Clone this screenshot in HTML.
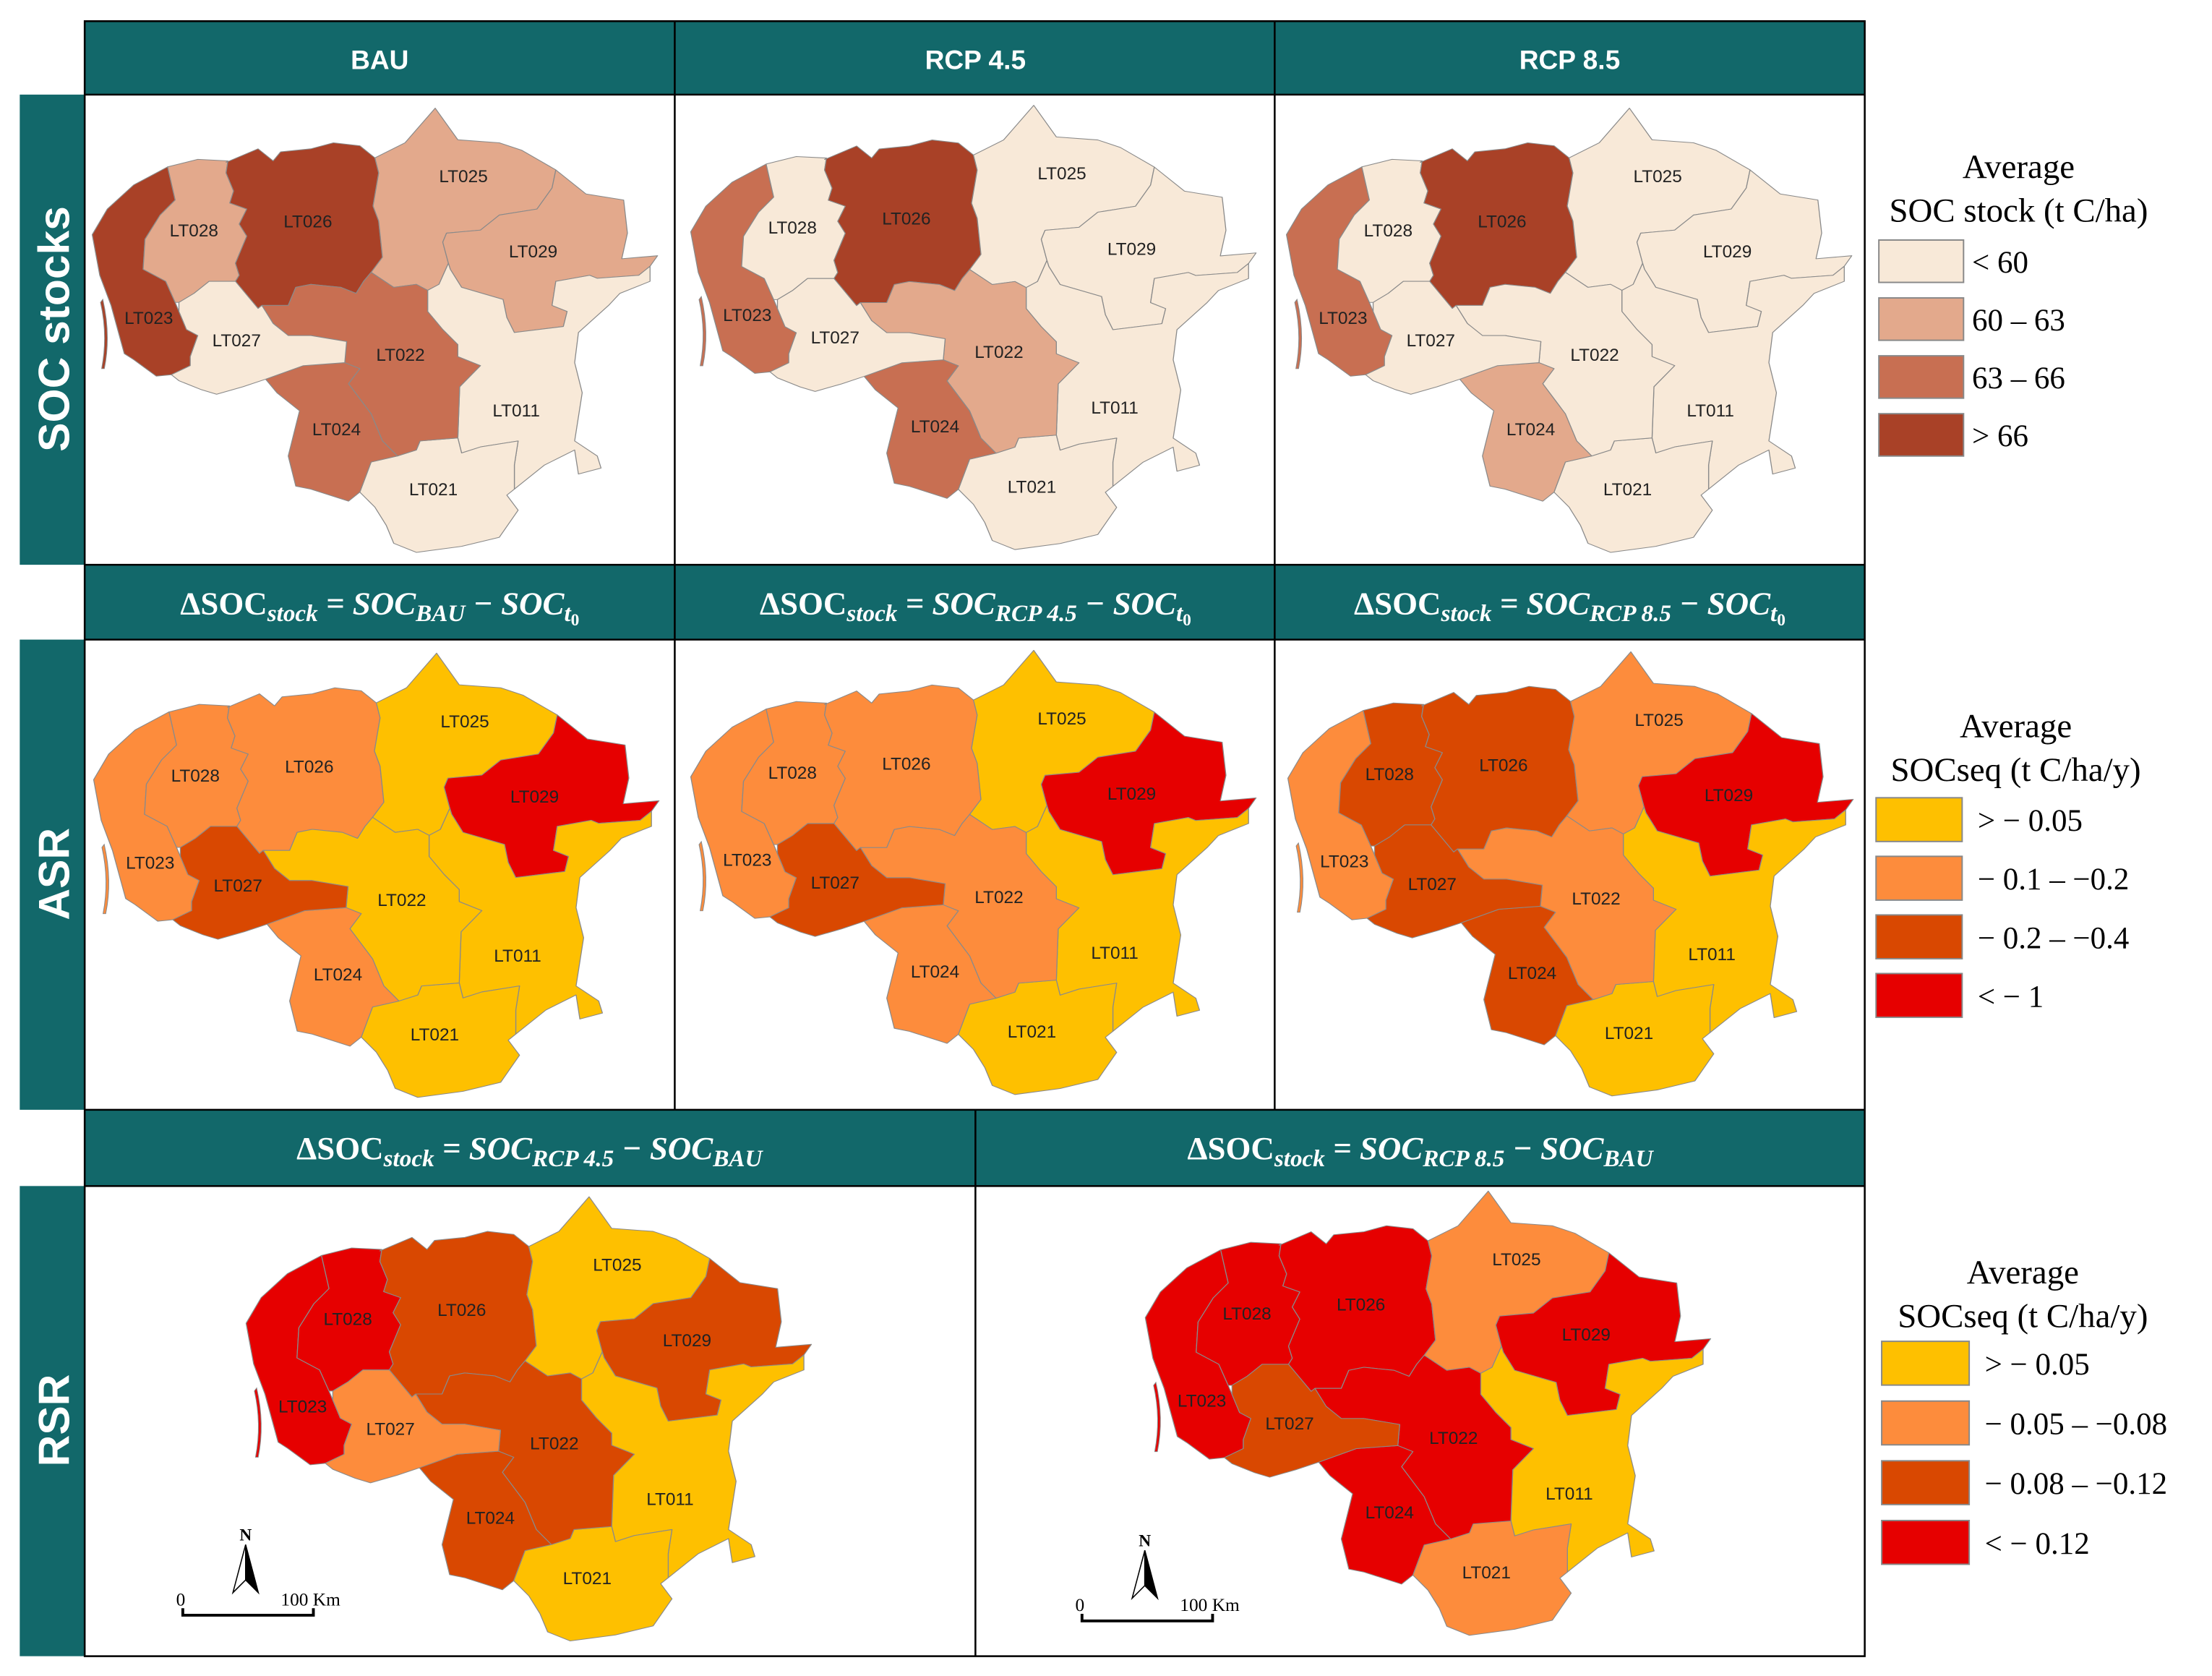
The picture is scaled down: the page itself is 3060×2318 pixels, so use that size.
<!DOCTYPE html>
<html><head><meta charset="utf-8"><style>
html,body{margin:0;padding:0;background:#fff;}
svg{display:block;}
.hd{font-family:"Liberation Sans",sans-serif;font-weight:bold;fill:#fff;}
.fm{font-family:"Liberation Serif",serif;font-weight:bold;fill:#fff;font-size:23px;}
.lg{font-family:"Liberation Serif",serif;fill:#000;}
.rl{font-family:"Liberation Sans",sans-serif;font-size:12.5px;fill:#222;}
</style></head><body>
<svg id="fig" width="3060" height="2318" viewBox="0 0 1567 1187" preserveAspectRatio="xMinYMin meet" xmlns="http://www.w3.org/2000/svg">
<rect width="1567" height="1187" fill="#fff"/>
<g id="frames">
  <rect x="60" y="15" width="1261" height="52" fill="#12686a"/>
  <text class="hd" x="269" y="49" font-size="19" text-anchor="middle">BAU</text>
  <text class="hd" x="691" y="49" font-size="19" text-anchor="middle">RCP 4.5</text>
  <text class="hd" x="1112" y="49" font-size="19" text-anchor="middle">RCP 8.5</text>
  <rect x="60" y="400" width="1261" height="53" fill="#12686a"/>
  <rect x="60" y="786" width="1261" height="54" fill="#12686a"/>
  <rect x="14" y="67" width="46" height="333" fill="#12686a"/>
  <rect x="14" y="453" width="46" height="333" fill="#12686a"/>
  <rect x="14" y="840" width="46" height="333" fill="#12686a"/>
  <text class="hd" font-size="31" transform="translate(49,233) rotate(-90)" text-anchor="middle">SOC stocks</text>
  <text class="hd" font-size="31" transform="translate(49,619) rotate(-90)" text-anchor="middle">ASR</text>
  <text class="hd" font-size="31" transform="translate(49,1006) rotate(-90)" text-anchor="middle">RSR</text>
  <text class="fm" x="269" y="435" text-anchor="middle">ΔSOC<tspan font-style="italic" font-size="17" dy="5">stock</tspan><tspan dy="-5" font-style="italic"> = SOC</tspan><tspan font-style="italic" font-size="17" dy="5">BAU</tspan><tspan dy="-5" font-style="italic"> − SOC</tspan><tspan font-style="italic" font-size="17" dy="5">t</tspan><tspan font-size="12" dy="3">0</tspan></text>
  <text class="fm" x="691" y="435" text-anchor="middle">ΔSOC<tspan font-style="italic" font-size="17" dy="5">stock</tspan><tspan dy="-5" font-style="italic"> = SOC</tspan><tspan font-style="italic" font-size="17" dy="5">RCP 4.5</tspan><tspan dy="-5" font-style="italic"> − SOC</tspan><tspan font-style="italic" font-size="17" dy="5">t</tspan><tspan font-size="12" dy="3">0</tspan></text>
  <text class="fm" x="1112" y="435" text-anchor="middle">ΔSOC<tspan font-style="italic" font-size="17" dy="5">stock</tspan><tspan dy="-5" font-style="italic"> = SOC</tspan><tspan font-style="italic" font-size="17" dy="5">RCP 8.5</tspan><tspan dy="-5" font-style="italic"> − SOC</tspan><tspan font-style="italic" font-size="17" dy="5">t</tspan><tspan font-size="12" dy="3">0</tspan></text>
  <text class="fm" x="375" y="821" text-anchor="middle">ΔSOC<tspan font-style="italic" font-size="17" dy="5">stock</tspan><tspan dy="-5" font-style="italic"> = SOC</tspan><tspan font-style="italic" font-size="17" dy="5">RCP 4.5</tspan><tspan dy="-5" font-style="italic"> − SOC</tspan><tspan font-style="italic" font-size="17" dy="5">BAU</tspan></text>
  <text class="fm" x="1006" y="821" text-anchor="middle">ΔSOC<tspan font-style="italic" font-size="17" dy="5">stock</tspan><tspan dy="-5" font-style="italic"> = SOC</tspan><tspan font-style="italic" font-size="17" dy="5">RCP 8.5</tspan><tspan dy="-5" font-style="italic"> − SOC</tspan><tspan font-style="italic" font-size="17" dy="5">BAU</tspan></text>
</g>
<g id="maps"></g>
<g id="borders" fill="none" stroke="#000" stroke-width="1.3">
  <rect x="60" y="15" width="1261" height="1158"/>
  <line x1="478" y1="15" x2="478" y2="786"/><line x1="903" y1="15" x2="903" y2="786"/>
  <line x1="691" y1="786" x2="691" y2="1173"/>
  <line x1="60" y1="67" x2="1321" y2="67"/><line x1="60" y1="400" x2="1321" y2="400"/>
  <line x1="60" y1="453" x2="1321" y2="453"/><line x1="60" y1="786" x2="1321" y2="786"/>
  <line x1="60" y1="840" x2="1321" y2="840"/>
</g>
<g id="scalebars"></g>
<g id="legends"></g>
</svg>
<script>
const NS="http://www.w3.org/2000/svg";
const regions=["LT023","LT028","LT026","LT025","LT029","LT011","LT021","LT022","LT024","LT027"];
const socBAU   =[3,1,3,1,1,0,0,2,2,0];
const socRCP45 =[2,0,3,0,0,0,0,1,2,0];
const socRCP85 =[2,0,3,0,0,0,0,0,1,0];
const asrBAU   =[1,1,1,0,3,0,0,0,1,2];
const asrRCP45 =[1,1,1,0,3,0,0,1,1,2];
const asrRCP85 =[1,2,2,1,3,0,0,1,2,2];
const rsrRCP45 =[3,3,2,0,2,0,0,2,2,1];
const rsrRCP85 =[3,3,3,1,3,0,1,3,3,2];
const socColors=["#f8e9d8","#e3a98c","#c86f52","#a94127"];
const seqColors=["#fec000","#fd8c3c","#d94801","#e60000"];
const socLegend=["< 60","60 – 63","63 – 66","> 66"];
const asrLegend=["> − 0.05","− 0.1 – −0.2","− 0.2 – −0.4","< − 1"];
const rsrLegend=["> − 0.05","− 0.05 – −0.08","− 0.08 – −0.12","< − 0.12"];

const shapes={
LT023:"20,465 60,380 130,300 190,260 220,240 240,350 200,400 160,480 155,580 215,620 240,690 250,720 270,780 300,800 280,870 280,900 230,930 190,935 130,880 105,860 70,700 40,600",
LT028:"220,240 300,215 380,220 375,260 395,320 385,360 430,380 410,430 430,470 400,560 410,600 400,620 330,620 290,660 250,690 240,690 215,620 155,580 160,480 200,400 240,350",
LT026:"375,225 460,180 500,220 520,190 600,180 660,160 730,170 770,210 780,260 765,370 780,420 790,540 760,590 740,620 720,660 680,640 600,630 560,640 540,700 470,700 460,710 400,620 410,600 400,560 430,470 410,430 430,380 385,360 395,320 375,260 380,220",
LT025:"770,210 850,160 930,45 990,150 1100,160 1160,185 1250,250 1240,310 1200,380 1100,400 1050,450 960,460 950,490 965,560 940,630 910,650 880,630 820,640 760,590 790,540 780,420 765,370 780,260",
LT029:"1250,250 1330,330 1430,350 1440,460 1425,545 1520,535 1500,570 1470,600 1360,610 1340,600 1250,620 1240,700 1280,720 1270,770 1140,790 1120,740 1110,680 1000,640 970,580 965,560 950,490 960,460 1050,450 1100,400 1200,380 1240,310",
LT011:"940,630 965,560 970,580 1000,640 1110,680 1120,740 1140,790 1270,770 1280,720 1240,700 1250,620 1340,600 1360,610 1470,600 1500,570 1500,620 1420,660 1390,700 1310,790 1300,890 1320,990 1300,1150 1360,1200 1370,1240 1310,1260 1300,1180 1220,1230 1140,1310 1140,1230 1150,1150 1050,1170 1000,1190 990,1140 995,970 1050,900 990,870 990,830 950,780 910,720 910,650",
LT021:"730,1320 760,1220 830,1200 880,1180 890,1150 990,1140 1000,1190 1050,1170 1150,1150 1140,1230 1140,1310 1120,1330 1150,1380 1100,1470 1000,1500 880,1520 820,1490 800,1430 770,1370",
LT022:"470,700 540,700 560,640 600,630 680,640 720,660 740,620 760,590 820,640 880,630 910,650 910,720 950,780 990,830 990,870 1050,900 995,970 990,1140 890,1150 880,1180 830,1200 790,1150 760,1060 700,960 730,910 690,890 695,820 600,800 540,800 500,760",
LT024:"480,945 580,900 690,890 730,910 700,960 760,1060 790,1150 830,1200 760,1220 730,1320 700,1350 600,1310 560,1300 540,1200 560,1100 570,1050 510,990",
LT027:"250,690 290,660 330,620 400,620 460,710 470,700 500,760 540,800 600,800 695,820 690,890 580,900 480,945 420,970 350,995 310,980 250,950 230,930 280,900 280,870 300,800 270,780 250,720"
};
const labelPos={LT023:[170,740],LT028:[290,450],LT026:[592,420],LT025:[1005,270],LT029:[1190,520],LT011:[1145,1048],LT021:[925,1310],LT022:[838,863],LT024:[668,1110],LT027:[403,815]};

const panels=[
 {name:"map-soc-bau",ox:60,oy:67,vals:socBAU,cols:socColors},
 {name:"map-soc-rcp45",ox:484,oy:65,vals:socRCP45,cols:socColors},
 {name:"map-soc-rcp85",ox:906,oy:67,vals:socRCP85,cols:socColors},
 {name:"map-asr-bau",ox:61,oy:453,vals:asrBAU,cols:seqColors},
 {name:"map-asr-rcp45",ox:484,oy:451,vals:asrRCP45,cols:seqColors},
 {name:"map-asr-rcp85",ox:907,oy:452,vals:asrRCP85,cols:seqColors},
 {name:"map-rsr-rcp45",ox:169,oy:838,vals:rsrRCP45,cols:seqColors},
 {name:"map-rsr-rcp85",ox:806,oy:834,vals:rsrRCP85,cols:seqColors}
];
const SX=0.267, SY=0.2133;
const maps=document.getElementById("maps");
panels.forEach(p=>{
  const g=document.createElementNS(NS,"g");
  
  
  const sg=document.createElementNS(NS,"g");
  sg.setAttribute("transform",`translate(${p.ox},${p.oy}) scale(${SX},${SY})`);
  regions.forEach((r,i)=>{
    const poly=document.createElementNS(NS,"polygon");
    poly.setAttribute("points",shapes[r]);
    poly.setAttribute("fill",p.cols[p.vals[i]]);
    poly.setAttribute("stroke","#8a8a8a");
    poly.setAttribute("stroke-width","2.5");
    poly.setAttribute("stroke-linejoin","round");
    
    
    sg.appendChild(poly);
  });
  const spit=document.createElementNS(NS,"path");
  spit.setAttribute("d","M48,680 Q70,800 52,910 L45,910 Q62,800 42,690 Z");
  spit.setAttribute("fill",p.cols[p.vals[0]]);
  spit.setAttribute("stroke","#8a8a8a");
  spit.setAttribute("stroke-width","2");
  
  
  sg.appendChild(spit);
  g.appendChild(sg);
  regions.forEach(r=>{
    const t=document.createElementNS(NS,"text");
    t.setAttribute("class","rl");
    t.setAttribute("x",(p.ox+labelPos[r][0]*SX).toFixed(1));
    t.setAttribute("y",(p.oy+labelPos[r][1]*SY+4.5).toFixed(1));
    t.setAttribute("text-anchor","middle");
    
    
    t.textContent=r;
    g.appendChild(t);
  });
  maps.appendChild(g);
});

const sb=document.getElementById("scalebars");
[[0,0],[637,4]].forEach(([dx,dy],k)=>{
  const g=document.createElementNS(NS,"g");
  
  
  g.setAttribute("transform",`translate(${dx},${dy})`);
  g.innerHTML=`<text x="174" y="1091" font-family="Liberation Serif,serif" font-weight="bold" font-size="12" text-anchor="middle">N</text>
<polygon points="174,1094 165,1128 174,1119" fill="#fff" stroke="#000" stroke-width="0.8"/>
<polygon points="174,1094 183,1128 174,1119" fill="#000" stroke="#000" stroke-width="0.8"/>
<text x="128" y="1137" font-family="Liberation Serif,serif" font-size="13" text-anchor="middle">0</text>
<text x="220" y="1137" font-family="Liberation Serif,serif" font-size="13" text-anchor="middle">100 Km</text>
<path d="M129.5,1139 V1144 H222 V1139" fill="none" stroke="#000" stroke-width="2"/>`;
  sb.appendChild(g);
});

const lgRoot=document.getElementById("legends");
function legend(name,cx,ty,sx,sy0,step,h,w,labels,cols,lx,lfs){
  const g=document.createElementNS(NS,"g");
  
  
  let s=`<text class="lg" x="${cx}" y="${ty}" font-size="24" text-anchor="middle">Average</text>`;
  lgRoot.appendChild(g);
  labels.forEach((l,i)=>{
    const y=sy0+i*step;
    s+=`<rect x="${sx}" y="${y}" width="${w}" height="${h}" fill="${cols[i]}" stroke="#888" stroke-width="1"/>`;
    s+=`<text class="lg" x="${lx}" y="${y+h/2+8}" font-size="22">${l}</text>`;
  });
  g.innerHTML=s;
  return g;
}
const l1=legend("legend-soc-stock",1430,126,1331,170,41,30,60,socLegend,socColors,1397,22);
l1.insertAdjacentHTML("beforeend",`<text class="lg" x="1430" y="157" font-size="24" text-anchor="middle">SOC stock (t C/ha)</text>`);
const l2=legend("legend-asr",1428,522,1329,565,41.5,31,61,asrLegend,seqColors,1401,22);
l2.insertAdjacentHTML("beforeend",`<text class="lg" x="1428" y="553" font-size="24" text-anchor="middle">SOCseq (t C/ha/y)</text>`);
const l3=legend("legend-rsr",1433,909,1333,950,42.3,31,62,rsrLegend,seqColors,1406,22);
l3.insertAdjacentHTML("beforeend",`<text class="lg" x="1433" y="940" font-size="24" text-anchor="middle">SOCseq (t C/ha/y)</text>`);
</script>
</body></html>
